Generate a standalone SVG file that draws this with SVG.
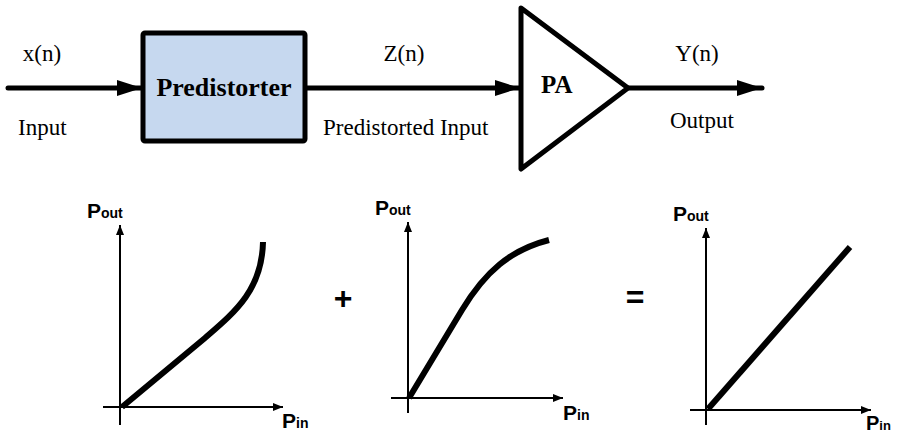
<svg xmlns="http://www.w3.org/2000/svg" width="897" height="433" viewBox="0 0 897 433">
<defs>
<style>
.serif{font-family:"Liberation Serif","Times New Roman",serif;fill:#000}
.lbl{font-size:23px}
.sans{font-family:"Liberation Sans",Arial,sans-serif;font-weight:bold;fill:#000}
.wire{stroke:#000;stroke-width:5;fill:none;stroke-linecap:round}
.axis{stroke:#000;stroke-width:2;fill:none}
.curve{stroke:#000;stroke-width:6;fill:none;stroke-linecap:butt}
</style>
<marker id="bigArrow" viewBox="0 0 25 16" refX="25" refY="8" markerWidth="25" markerHeight="16" markerUnits="userSpaceOnUse" orient="auto">
<path d="M0,0 L25,8 L0,16 Z" fill="#000"/>
</marker>
<marker id="axArrow" viewBox="0 0 10 8" refX="10" refY="4" markerWidth="10" markerHeight="8" markerUnits="userSpaceOnUse" orient="auto">
<path d="M0,0 L10,4 L0,8 Z" fill="#000"/>
</marker>
</defs>
<rect width="897" height="433" fill="#fff"/>

<g id="connectors">
<line class="wire" x1="8" y1="88" x2="142" y2="88" marker-end="url(#bigArrow)"/>
<line class="wire" x1="306" y1="88" x2="520" y2="88" marker-end="url(#bigArrow)"/>
<line class="wire" x1="629" y1="88" x2="762" y2="88" marker-end="url(#bigArrow)"/>
</g>

<g id="predistorter">
<rect x="143" y="33" width="162" height="108" rx="2" fill="#c6d8ef" stroke="#000" stroke-width="5"/>
<text class="serif" x="224" y="96" font-size="26" font-weight="bold" text-anchor="middle">Predistorter</text>
</g>

<g id="pa">
<path d="M521,8 L628,88 L521,169 Z" fill="#fff" stroke="#000" stroke-width="5" stroke-linejoin="round"/>
<text class="serif" x="541" y="93" font-size="25" font-weight="bold">PA</text>
</g>

<g id="labels">
<text class="serif lbl" x="42" y="61" text-anchor="middle">x(n)</text>
<text class="serif lbl" x="18" y="135">Input</text>
<text class="serif lbl" x="404" y="61" text-anchor="middle">Z(n)</text>
<text class="serif lbl" x="323" y="135">Predistorted Input</text>
<text class="serif lbl" x="697" y="61" text-anchor="middle">Y(n)</text>
<text class="serif lbl" x="670" y="128">Output</text>
</g>

<g id="graph-predistorter">
<line class="axis" x1="120" y1="425" x2="120" y2="225" marker-end="url(#axArrow)"/>
<line class="axis" x1="103" y1="407" x2="283" y2="407" marker-end="url(#axArrow)"/>
<path class="curve" d="M122,407 L205,338 C235,312 262,290 263,242"/>
<text class="sans" x="87" y="218" font-size="21">P<tspan font-size="14">out</tspan></text>
<text class="sans" x="282" y="428" font-size="21">P<tspan font-size="14">in</tspan></text>
</g>

<g id="plus">
<text class="sans" x="343" y="309" font-size="32" text-anchor="middle">+</text>
</g>

<g id="equals">
<text class="sans" x="635" y="308" font-size="32" text-anchor="middle">=</text>
</g>

<g id="graph-pa">
<line class="axis" x1="408" y1="413" x2="408" y2="222" marker-end="url(#axArrow)"/>
<line class="axis" x1="391" y1="398" x2="563" y2="398" marker-end="url(#axArrow)"/>
<path class="curve" d="M409,398 L462,310 C485,272 510,250 549,240"/>
<text class="sans" x="375" y="215" font-size="21">P<tspan font-size="14">out</tspan></text>
<text class="sans" x="563" y="420" font-size="21">P<tspan font-size="14">in</tspan></text>
</g>

<g id="graph-linear">
<line class="axis" x1="706" y1="425" x2="706" y2="228" marker-end="url(#axArrow)"/>
<line class="axis" x1="690" y1="410" x2="871" y2="410" marker-end="url(#axArrow)"/>
<path class="curve" d="M708,409 L850,247"/>
<text class="sans" x="673" y="221" font-size="21">P<tspan font-size="14">out</tspan></text>
<text class="sans" x="866" y="430" font-size="20">P<tspan font-size="13">in</tspan></text>
</g>
</svg>
